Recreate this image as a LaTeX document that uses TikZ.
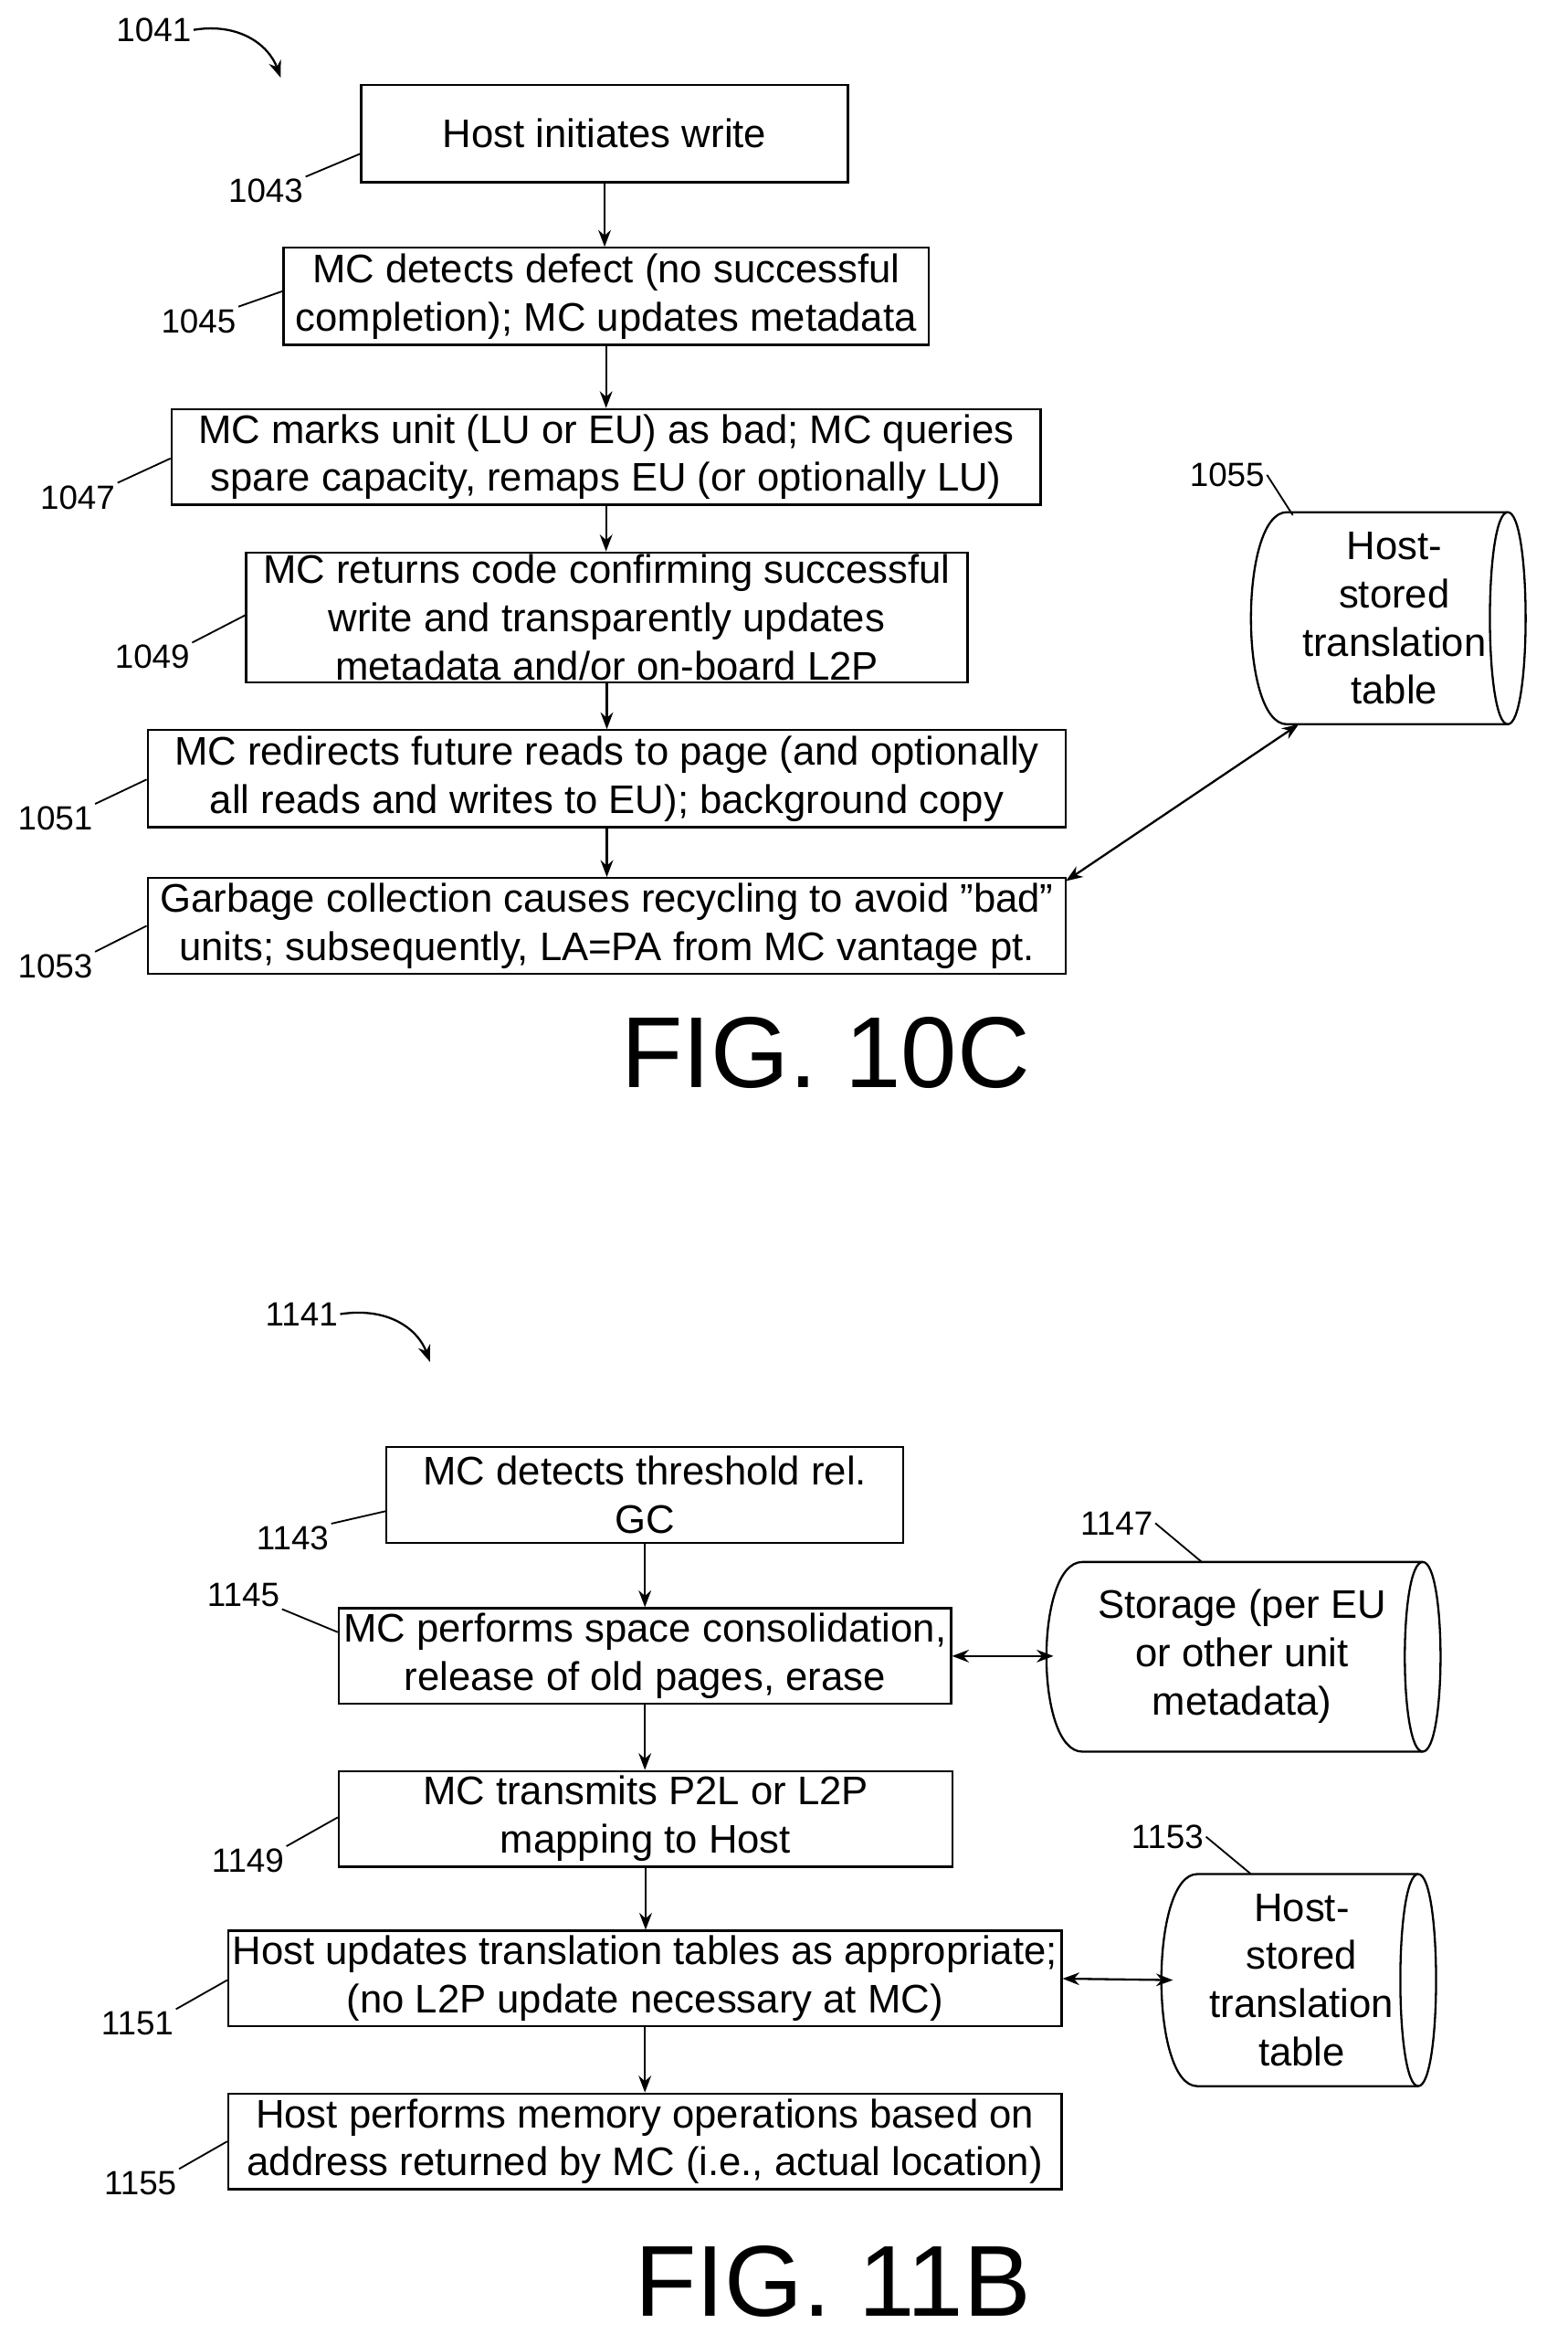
\documentclass[tikz,border=0pt]{standalone}
\usepackage{fontspec}
\setmainfont{Liberation Sans}
\usetikzlibrary{arrows.meta}
\newcommand{\cylshape}[5]{% x1 y1 x2 y2 r
  \draw[line width=1pt] (#1+#5,#2) -- (#3-#5,#2) .. controls (#3+0.33*#5,#2) and (#3+0.33*#5,#4) .. (#3-#5,#4)
    -- (#1+#5,#4) .. controls (#1-1.67*#5,#4) and (#1-1.67*#5,#2) .. (#1+#5,#2);
  \draw[line width=1pt] (#3-#5,#2) .. controls (#3-2.33*#5,#2) and (#3-2.33*#5,#4) .. (#3-#5,#4);}
\begin{document}
\begin{tikzpicture}[x=0.025cm,y=-0.025cm,
  box/.style={draw,line width=1pt,align=center,inner sep=1pt,font=\fontsize{19}{23}\selectfont},
  cyl/.style={align=center,inner sep=0pt,font=\fontsize{19}{23}\selectfont},
  lbl/.style={font=\fontsize{16}{19}\selectfont,inner sep=1pt},
  ln/.style={line width=0.8pt},
  arr/.style={line width=1pt,-{Stealth[length=8pt,width=6pt]}},
  darr/.style={line width=1pt,{Stealth[length=8pt,width=6pt]}-{Stealth[length=8pt,width=6pt]}},
  fig/.style={font=\fontsize{48}{54}\selectfont}]
\useasboundingbox (0,0) rectangle (1050,1563);
% FIG 10C
\node[box,minimum width=8.15cm,minimum height=1.625cm] (b1043) at (405,89.5) {Host initiates write};
\node[box,minimum width=10.8cm,minimum height=1.625cm] (b1045) at (406,198.5) {MC detects defect (no successful\\completion); MC updates metadata};
\node[box,minimum width=14.55cm,minimum height=1.6cm] (b1047) at (406,306) {MC marks unit (LU or EU) as bad; MC queries\\spare capacity, remaps EU (or optionally LU)};
\node[box,minimum width=12.075cm,minimum height=2.175cm] (b1049) at (406.5,413.5) {MC returns code confirming successful\\write and transparently updates\\metadata and/or on-board L2P};
\node[box,minimum width=15.375cm,minimum height=1.625cm] (b1051) at (406.5,521.5) {MC redirects future reads to page (and optionally\\all reads and writes to EU); background copy};
\node[box,minimum width=15.375cm,minimum height=1.6cm] (b1053) at (406.5,620) {Garbage collection causes recycling to avoid "bad"\\units; subsequently, LA=PA from MC vantage pt.};
\cylshape{850}{343}{1022}{485}{12}
\node[cyl,minimum width=3.6cm,minimum height=3.5cm] (c1055) at (934,414) {Host-\\stored\\translation\\table};
\coordinate (c1055sw) at (870,485);
\foreach \a/\b in {b1043/b1045,b1045/b1047,b1047/b1049,b1049/b1051,b1051/b1053}
  \draw[arr] (\a.south) -- (\a.south |- \b.north);
\draw[darr] (c1055sw) -- (714,590);
\node[lbl] (l1041) at (103,20) {1041};
\coordinate (t1041) at (188,52);
\draw[arr] (l1041.east) .. controls (160,15) and (180,30) .. (t1041);
\node[lbl] (l1043) at (178,128) {1043}; \draw[ln] (l1043.north east) -- (b1043.west |- 0,103);
\node[lbl] (l1045) at (133,215) {1045}; \draw[ln] (l1045.north east) -- (b1045.west |- 0,195);
\node[lbl] (l1047) at (52,333) {1047}; \draw[ln] (l1047.north east) -- (b1047.west |- 0,307);
\node[lbl] (l1049) at (102,440) {1049}; \draw[ln] (l1049.north east) -- (b1049.west |- 0,412);
\node[lbl] (l1051) at (37,548) {1051}; \draw[ln] (l1051.north east) -- (b1051.west |- 0,522);
\node[lbl] (l1053) at (37,647) {1053}; \draw[ln] (l1053.north east) -- (b1053.west |- 0,620);
\node[lbl] (l1055) at (822,318) {1055}; \coordinate (t1055) at (866,345); \draw[ln] (l1055.east) -- (t1055);
\node[fig] (f10c) at (553,705) {FIG. 10C};
% FIG 11B
\node[box,minimum width=8.65cm,minimum height=1.6cm] (b1143) at (432,1001) {MC detects threshold rel.\\GC};
\node[box,minimum width=10.25cm,minimum height=1.6cm] (b1145) at (432,1109) {MC performs space consolidation,\\release of old pages, erase};
\node[box,minimum width=10.275cm,minimum height=1.6cm] (b1149) at (432.5,1218) {MC transmits P2L or L2P\\mapping to Host};
\node[box,minimum width=13.95cm,minimum height=1.6cm] (b1151) at (432,1325) {Host updates translation tables as appropriate;\\(no L2P update necessary at MC)};
\node[box,minimum width=13.95cm,minimum height=1.6cm] (b1155) at (432,1434) {Host performs memory operations based on\\address returned by MC (i.e., actual location)};
\foreach \a/\b in {b1143/b1145,b1145/b1149,b1149/b1151,b1151/b1155}
  \draw[arr] (\a.south) -- (\a.south |- \b.north);
\cylshape{713}{1046}{965}{1173}{12}
\node[cyl,minimum width=6.3cm,minimum height=3.2cm] (c1147) at (832,1109) {Storage (per EU\\or other unit\\metadata)};
\cylshape{790}{1255}{962}{1397}{12}
\node[cyl,minimum width=4.3cm,minimum height=3.5cm] (c1153) at (872,1326) {Host-\\stored\\translation\\table};
\draw[darr] (b1145.east) -- (c1147.west);
\draw[darr] (b1151.east) -- (c1153.west);
\node[lbl] (l1141) at (202,880) {1141};
\coordinate (t1141) at (288,912);
\draw[arr] (l1141.east) .. controls (260,875) and (280,890) .. (t1141);
\node[lbl] (l1143) at (196,1030) {1143}; \draw[ln] (l1143.north east) -- (b1143.west |- 0,1012);
\node[lbl] (l1145) at (163,1068) {1145}; \draw[ln] (l1145.south east) -- (b1145.west |- 0,1093);
\node[lbl] (l1147) at (748,1020) {1147}; \coordinate (t1147) at (805,1046); \draw[ln] (l1147.east) -- (t1147);
\node[lbl] (l1149) at (166,1246) {1149}; \draw[ln] (l1149.north east) -- (b1149.west |- 0,1217);
\node[lbl] (l1151) at (92,1355) {1151}; \draw[ln] (l1151.north east) -- (b1151.west |- 0,1326);
\node[lbl] (l1153) at (782,1230) {1153}; \coordinate (t1153) at (838,1255); \draw[ln] (l1153.east) -- (t1153);
\node[lbl] (l1155) at (94,1462) {1155}; \draw[ln] (l1155.north east) -- (b1155.west |- 0,1434);
\node[fig] (f11b) at (558,1528) {FIG. 11B};
\end{tikzpicture}
\end{document}
